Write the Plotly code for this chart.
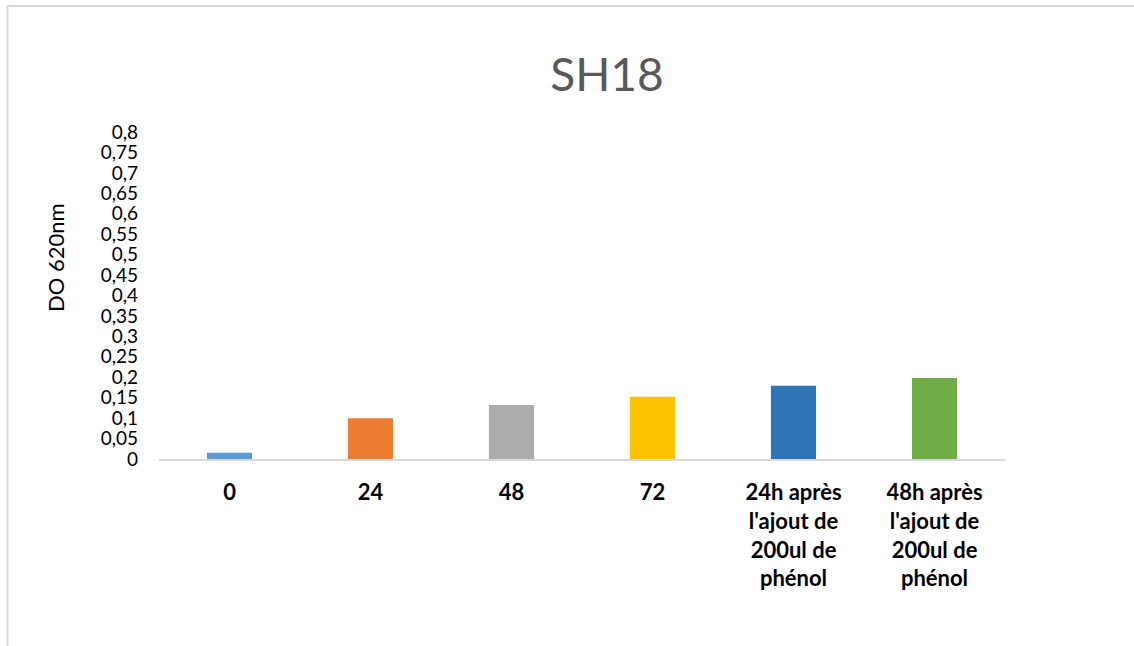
import plotly.graph_objects as go

# Optical density at 620 nm for strain SH18 over time
categories = [
    "0",
    "24",
    "48",
    "72",
    "24h après<br>l'ajout de<br>200ul de<br>phénol",
    "48h après<br>l'ajout de<br>200ul de<br>phénol",
]
od_values = [0.015, 0.100, 0.132, 0.152, 0.179, 0.198]
bar_colors = ["#5B9BD5", "#ED7D31", "#ADACAC", "#FFC000", "#2E75B6", "#70AD47"]

y_tick_values = [0, 0.05, 0.1, 0.15, 0.2, 0.25, 0.3, 0.35, 0.4, 0.45,
                 0.5, 0.55, 0.6, 0.65, 0.7, 0.75, 0.8]
y_tick_labels = ["0", "0,05", "0,1", "0,15", "0,2", "0,25", "0,3", "0,35", "0,4",
                 "0,45", "0,5", "0,55", "0,6", "0,65", "0,7", "0,75", "0,8"]

W, H = 1134, 646
ML, MR, MT, MB = 159, 129, 132, 187
plot_w = W - ML - MR
plot_h = H - MT - MB


def px_to_paper_x(px):
    return (px - ML) / plot_w


def px_to_paper_y(py):
    return (H - MB - py) / plot_h


fig = go.Figure(
    go.Bar(
        x=categories,
        y=od_values,
        marker=dict(color=bar_colors, line=dict(width=0)),
        showlegend=False,
    )
)

fig.update_layout(
    width=W,
    height=H,
    margin=dict(l=ML, r=MR, t=MT, b=MB, pad=0),
    paper_bgcolor="white",
    plot_bgcolor="white",
    bargap=0.68,
    title=dict(
        text="SH18",
        font=dict(family="Lato", size=46, color="#595959"),
        xref="container",
        yref="container",
        x=607 / W,
        y=1 - 75 / H,
        xanchor="center",
        yanchor="middle",
    ),
    font=dict(family="Lato", color="#000000"),
    xaxis=dict(
        showline=True,
        linecolor="#D9D9D9",
        linewidth=2,
        showgrid=False,
        ticks="",
        tickfont=dict(family="Lato", size=22, color="#000000", weight="bold"),
        ticklabelstandoff=13,
    ),
    yaxis=dict(
        range=[0, 0.8],
        tickvals=y_tick_values,
        ticktext=y_tick_labels,
        showline=False,
        showgrid=False,
        zeroline=False,
        ticks="",
        tickfont=dict(family="Lato", size=19, color="#000000"),
        ticklabelstandoff=20,
    ),
    annotations=[
        dict(
            text="DO 620nm",
            xref="paper",
            yref="paper",
            x=px_to_paper_x(55),
            y=px_to_paper_y(258),
            xanchor="center",
            yanchor="middle",
            textangle=-90,
            showarrow=False,
            font=dict(family="Lato", size=22, color="#000000"),
        )
    ],
    shapes=[
        dict(
            type="rect",
            xref="paper",
            yref="paper",
            x0=px_to_paper_x(7.5),
            x1=px_to_paper_x(W + 20),
            y0=px_to_paper_y(H + 20),
            y1=px_to_paper_y(6),
            line=dict(color="#D9D9D9", width=2),
            fillcolor="rgba(0,0,0,0)",
            layer="below",
        )
    ],
)

fig.write_html("out.html")
